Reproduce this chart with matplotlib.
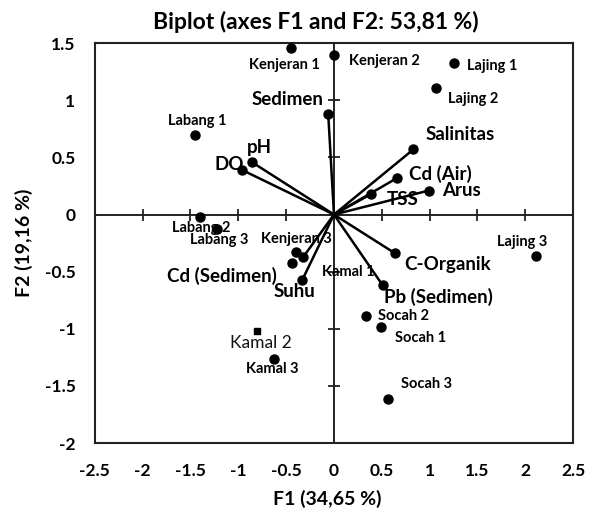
import matplotlib
matplotlib.use("Agg")
import matplotlib.pyplot as plt

plt.rcParams['font.family'] = ['Lato', 'DejaVu Sans']

# observations (sites)
obs_names = ['Kenjeran 1', 'Kenjeran 2', 'Lajing 1', 'Lajing 2', 'Labang 1',
             'Labang 2', 'Labang 3', 'Kenjeran 3', 'Kamal 1', 'Kamal 3',
             'Lajing 3', 'Socah 2', 'Socah 1', 'Socah 3']
obs_f1 = [-0.45, 0.00, 1.26, 1.07, -1.45, -1.40, -1.22, -0.40, -0.44, -0.63,
          2.11, 0.33, 0.49, 0.56]
obs_f2 = [1.46, 1.40, 1.33, 1.11, 0.70, -0.02, -0.13, -0.33, -0.42, -1.26,
          -0.36, -0.89, -0.98, -1.61]

# square marked site
sq_name = 'Kamal 2'
sq_f1 = -0.80
sq_f2 = -1.02

# variables (arrows)
var_names = ['Sedimen', 'pH', 'DO', 'Salinitas', 'Cd (Air)', 'Arus', 'TSS',
             'C-Organik', 'Pb (Sedimen)', 'Suhu', 'Cd (Sedimen)']
var_f1 = [-0.06, -0.86, -0.96, 0.83, 0.66, 0.99, 0.39, 0.64, 0.51, -0.33, -0.32]
var_f2 = [0.88, 0.46, 0.39, 0.57, 0.32, 0.21, 0.18, -0.34, -0.62, -0.57, -0.37]

# label offsets in pixels
obs_off = [(-6, -17), (50, -6), (38, -3), (37, -11), (2, 14), (1, -11), (2, -11),
           (1, 13), (56, -9), (-1, -10), (-14, 14), (38, 0), (40, -11), (39, 15)]
sq_off = (3, -12)
var_off = [(-41, 15), (8, 15), (-13, 5), (47, 15), (43, 4), (33, 0), (31, -6),
           (52, -11), (56, -12), (-8, -12), (-81, -19)]

fig = plt.figure(figsize=(5.89, 5.14), dpi=100)
ax = fig.add_axes([0.161, 0.138, 0.812, 0.778])
ax.set_xlim(-2.5, 2.5)
ax.set_ylim(-2, 1.5)

ax.axhline(0, color='#222222', lw=1.4, zorder=1)
ax.axvline(0, color='#222222', lw=1.4, zorder=1)
xt = [-2.5, -2, -1.5, -1, -0.5, 0, 0.5, 1, 1.5, 2, 2.5]
yt = [-2, -1.5, -1, -0.5, 0, 0.5, 1, 1.5]
ax.set_xticks(xt)
ax.set_yticks(yt)
ax.set_xticklabels([f'{v:g}' for v in xt])
ax.set_yticklabels([f'{v:g}' for v in yt])
ax.tick_params(length=0, labelsize=12.5, pad=14)
for lab in ax.get_xticklabels() + ax.get_yticklabels():
    lab.set_fontweight('bold')
# small tick crosses on the centre axes
ax.plot(xt[1:-1], [0] * (len(xt) - 2), ls='none', marker='|', ms=9, mew=1.3, color='#222222', zorder=1)
ax.plot([0] * (len(yt) - 2), yt[1:-1], ls='none', marker='_', ms=9, mew=1.3, color='#222222', zorder=1)

for s in ax.spines.values():
    s.set_linewidth(1.5)
    s.set_color('#222222')

for name, x, y, off in zip(var_names, var_f1, var_f2, var_off):
    ax.plot([0, x], [0, y], color='black', lw=1.8, zorder=2)
    ax.plot(x, y, 'o', color='black', ms=6.5, zorder=3)
    ax.annotate(name, (x, y), xytext=off, textcoords='offset pixels',
                ha='center', va='center', fontsize=13.5, fontweight='bold')

ax.plot(obs_f1, obs_f2, 'o', color='black', ms=6.5, zorder=3)
for name, x, y, off in zip(obs_names, obs_f1, obs_f2, obs_off):
    ax.annotate(name, (x, y), xytext=off, textcoords='offset pixels',
                ha='center', va='center', fontsize=10.5, fontweight='bold')

ax.plot(sq_f1, sq_f2, 's', color='black', ms=5, zorder=3)
ax.annotate(sq_name, (sq_f1, sq_f2), xytext=sq_off, textcoords='offset pixels',
            ha='center', va='center', fontsize=12.5, color='#111111')

ax.set_title('Biplot (axes F1 and F2: 53,81 %)', fontsize=16.5, fontweight='bold', pad=10, x=0.462)
ax.set_xlabel('F1 (34,65 %)', fontsize=14, fontweight='bold', labelpad=8, x=0.487)
ax.set_ylabel('F2 (19,16 %)', fontsize=14, fontweight='bold', labelpad=8)

fig.savefig('out.png', dpi=100)
